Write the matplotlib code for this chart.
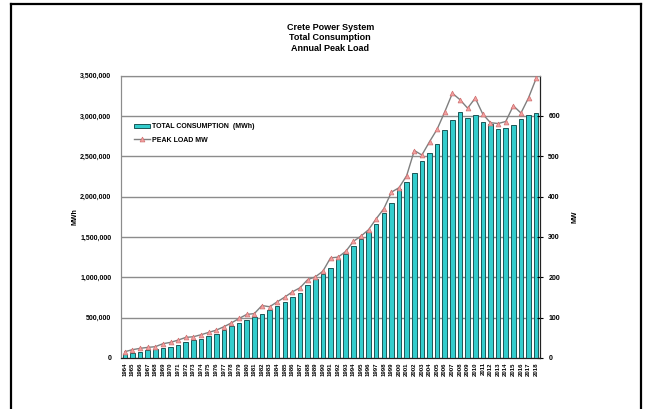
import matplotlib.pyplot as plt
from matplotlib.lines import Line2D
from matplotlib.patches import Patch
import numpy as np

plt.rcParams['font.family'] = ['Liberation Sans', 'DejaVu Sans']
plt.rcParams['font.weight'] = 'bold'

# Crete power system, 1964-2018
years = list(range(1964, 2019))

consumption_mwh = [
    46000, 58000, 74000, 95000, 108000, 129000, 136000, 166000, 195000, 228000,
    240000, 269000, 303000, 344000, 402000, 434000, 468000, 509000, 551000, 592000,
    640000, 700000, 755000, 810000, 900000, 980000, 1045000, 1120000, 1225000, 1290000,
    1390000, 1475000, 1565000, 1655000, 1800000, 1925000, 2090000, 2185000, 2296000, 2444000,
    2543000, 2650000, 2823000, 2954000, 3045000, 2975000, 3012000, 2926000, 2897000, 2831000,
    2852000, 2889000, 2963000, 3016000, 3041000,
]

peak_load_mw = [
    15.6, 20.6, 23.9, 26.3, 28, 35.4, 38.7, 44.4, 51, 52.7,
    57.6, 63.4, 69, 77.4, 87, 98, 108, 110, 130, 127,
    139, 151, 164, 174, 194, 201, 215, 248, 250, 264,
    289, 302, 318, 345, 370, 411, 422, 452, 514, 503,
    536, 567, 610, 656, 640, 619, 644, 604, 583, 581,
    586, 625, 607, 645, 693,
]

left_ticks = [0, 500000, 1000000, 1500000, 2000000, 2500000, 3000000, 3500000]
right_ticks = [0, 100, 200, 300, 400, 500, 600]

fig = plt.figure(figsize=(6.45, 4.09), dpi=100)
ax = fig.add_axes([121 / 645, 1 - 358 / 409, 419 / 645, 282.5 / 409])
ax2 = ax.twinx()

x = np.arange(len(years))
ax.bar(x, consumption_mwh, width=0.6, color='#33CCCC', edgecolor='#1C5656',
       linewidth=0.7, zorder=3)
ax2.plot(x, peak_load_mw, color='#7F7F7F', lw=1.0, marker='^', markersize=3.5,
         markerfacecolor='#F4A0A0', markeredgecolor='#D07070', markeredgewidth=0.5,
         zorder=4)

ax.set_xlim(-0.5, len(years) - 0.5)
ax.set_ylim(0, 3500000)
ax2.set_ylim(0, 700)

ax.set_yticks(left_ticks)
ax.set_yticklabels([f"{v:,}" for v in left_ticks], fontsize=5, fontweight='bold')
ax.tick_params(axis='y', length=0, pad=7)
ax.yaxis.grid(True, color='#8C8C8C', lw=1.0, zorder=0)
ax.set_axisbelow(True)

ax.set_xticks(x)
ax.set_xticklabels([str(y) for y in years], rotation=90, fontsize=4.3, fontweight='bold')
ax.tick_params(axis='x', length=0, pad=3)

ax2.set_yticks(right_ticks)
ax2.set_yticklabels([str(v) for v in right_ticks], fontsize=5, fontweight='bold')
ax2.tick_params(axis='y', direction='inout', length=4, width=0.8, pad=4)

for a in (ax, ax2):
    a.spines['top'].set_color('#8C8C8C')
    a.spines['left'].set_color('#8C8C8C')
    a.spines['right'].set_color('#222222')
    a.spines['bottom'].set_color('#222222')

ax.set_ylabel("MWh", fontsize=5, fontweight='bold', labelpad=1)
ax2.set_ylabel("MW", fontsize=5, fontweight='bold', labelpad=8)

handles = [
    Patch(facecolor='#33CCCC', edgecolor='#1C5656', linewidth=0.7),
    Line2D([0], [0], color='#7F7F7F', lw=1.0, marker='^', markersize=3.5,
           markerfacecolor='#F4A0A0', markeredgecolor='#D07070', markeredgewidth=0.5),
]
labels = ["TOTAL CONSUMPTION  (MWh)", "PEAK LOAD MW"]
leg = ax.legend(handles, labels, loc='upper left', bbox_to_anchor=(0.025, 0.84),
                frameon=False, fontsize=5, handlelength=2.3, handleheight=0.6,
                labelspacing=0.9, handletextpad=0.2, borderaxespad=0)
for t in leg.get_texts():
    t.set_fontweight('bold')

fig.text(0.512, 1 - 38 / 409, "Crete Power System\nTotal Consumption\nAnnual Peak Load",
         ha='center', va='center', fontsize=6.5, fontweight='bold', linespacing=1.25)

# outer frame of the screenshot
frame_kw = dict(color='black', lw=1.6, transform=fig.transFigure)
fig.add_artist(Line2D([11 / 645, 11 / 645], [0, 1 - 3.5 / 409], **frame_kw))
fig.add_artist(Line2D([11 / 645, 640.5 / 645], [1 - 3.5 / 409, 1 - 3.5 / 409], **frame_kw))
fig.add_artist(Line2D([640.5 / 645, 640.5 / 645], [0, 1 - 3.5 / 409], **frame_kw))

fig.savefig("out.png", dpi=100)
